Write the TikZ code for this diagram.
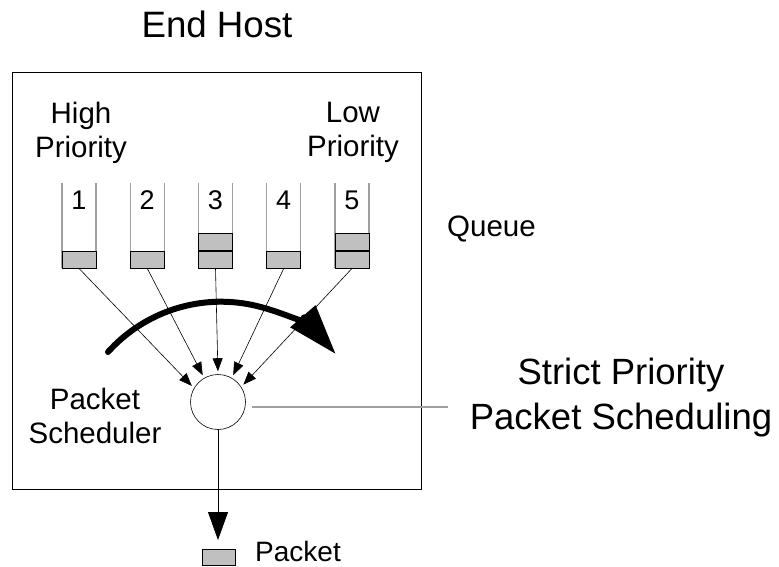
\documentclass[tikz,border=0pt]{standalone}
\usepackage{fontspec}
\setmainfont{Liberation Sans}
\usetikzlibrary{positioning, arrows.meta, shapes.geometric}
\definecolor{cellgray}{RGB}{192,192,192}
\definecolor{wallgray}{RGB}{160,160,160}

\tikzset{
    cell/.style={draw=black, fill=cellgray, minimum width=34pt, minimum height=17pt, inner sep=0pt, line width=0.8pt},
    wall/.style={draw=wallgray, line width=1.2pt},
    feed/.style={-{Triangle[length=13pt,width=10pt]}, line width=0.6pt, shorten >=3pt},
    lbl/.style={align=center, inner sep=0pt, font=\fontsize{29.5}{34.5}\selectfont},
}

\begin{document}
\begin{tikzpicture}[x=1pt,y=-1pt]
    \useasboundingbox (0,0) rectangle (779,566);

    % End host box
    \draw[line width=1pt] (12,72) rectangle (421,489);
    \node[anchor=base, inner sep=0pt, font=\fontsize{36.7}{44}\selectfont] (hosttitle) at (217,37) {End Host};

    % Labels
    \node[lbl, anchor=north] (highlbl) at (81,101.5) {High\\Priority};
    \node[lbl, anchor=north] (lowlbl) at (353,101.5) {Low\\Priority};
    \node[lbl, anchor=base west] (queuelbl) at (447,236) {Queue};
    \node[lbl, anchor=north] (schedlbl) at (95,387.5) {Packet\\Scheduler};
    \node[lbl, anchor=north, font=\fontsize{36.5}{45}\selectfont] (strictlbl) at (621,358) {Strict Priority\\Packet Scheduling};

    % Queues
    \foreach \i in {1,...,5}{
        \pgfmathsetmacro{\qx}{79+68.25*(\i-1)}
        \draw[wall] (\qx-17,268) -- (\qx-17,183);
        \draw[wall] (\qx+17,268) -- (\qx+17,183);
        \node[cell] (q\i) at (\qx,259.5) {};
        \node[anchor=base, inner sep=0pt, font=\fontsize{27}{32}\selectfont] (n\i) at (\qx,209) {\i};
    }
    \node[cell, above=0pt of q3] (q3b) {};
    \node[cell, above=0pt of q5] (q5b) {};

    % Scheduler
    \node[circle, draw, minimum size=55pt, inner sep=0pt, line width=0.6pt] (sched) at (218,402) {};
    \foreach \i/\a in {1/150,2/120,3/90,4/60,5/33}
        \draw[feed] (q\i.south) -- (sched.\a);

    % Sweep arrow
    \coordinate (sweep) at (108,352);
    \draw[line width=6pt, line cap=round, -{Triangle[length=50pt,width=32pt]}] (sweep) arc[start angle=138, end angle=41, radius=152pt];

    % Callout line
    \draw[wallgray, line width=1.2pt, shorten <=6pt, shorten >=22pt] ([yshift=-5pt]sched.east) -- ([yshift=-5pt]sched.east -| strictlbl.west);

    % Output packet
    \coordinate (outtip) at (218,540);
    \draw[line width=0.8pt, -{Triangle[length=28pt,width=20pt]}] (sched.south) -- (outtip);
    \node[cell, minimum width=33pt, minimum height=16pt] (pkt) at (219,557) {};
    \node[anchor=base west, inner sep=0pt, font=\fontsize{28}{33}\selectfont] (pktlbl) at (255,561) {Packet};
\end{tikzpicture}
\end{document}
